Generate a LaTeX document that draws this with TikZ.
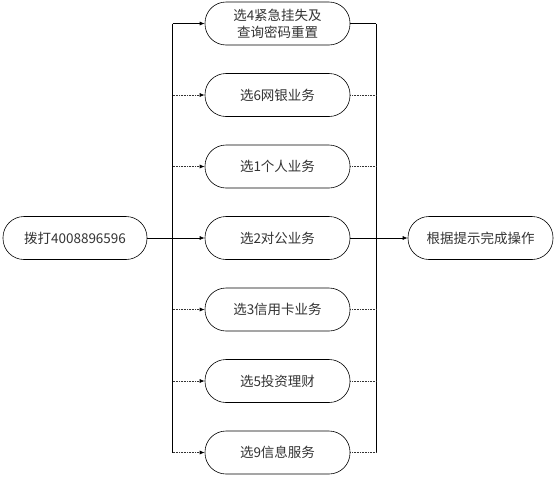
\documentclass[tikz,border=0pt]{standalone}
\usepackage{fontspec}
\newfontfamily\cjk{Noto Sans CJK SC}
\usetikzlibrary{arrows.meta}
\begin{document}
\begin{tikzpicture}[x=1pt,y=-1pt,
  box/.style={draw=black, line width=0.6pt, rounded corners=21pt, minimum width=145pt, minimum height=43pt, inner sep=2pt, align=center, font=\cjk\fontsize{13.5}{17}\selectfont, text=black!80},
  solidline/.style={draw=black, line width=0.7pt},
  dotline/.style={draw=black!80, line width=0.8pt, dash pattern=on 0.8pt off 0.8pt},
  tip/.style={-{Latex[length=5pt,width=4pt]}}]
\useasboundingbox (0,0) rectangle (554,477);
\node[box] (s4) at (277.5,23.5) {选4紧急挂失及\\查询密码重置};
\node[box] (s6) at (277.5,95) {选6网银业务};
\node[box] (s1) at (277.5,166.5) {选1个人业务};
\node[box] (s2) at (277.5,238) {选2对公业务};
\node[box] (s3) at (277.5,309.5) {选3信用卡业务};
\node[box] (s5) at (277.5,381) {选5投资理财};
\node[box] (s9) at (277.5,452.5) {选9信息服务};
\node[box, minimum width=144pt] (call) at (75,238) {拨打4008896596};
\node[box, minimum width=145pt] (done) at (480.5,238) {根据提示完成操作};
\coordinate (lt) at (172.5,23.5);
\coordinate (lb) at (172.5,452.5);
\coordinate (rt) at (376,23.5);
\coordinate (rb) at (376,452.5);
\draw[solidline] (lt) -- (lb);
\draw[solidline] (rt) -- (rb);
\draw[solidline, tip] (call) -- (s2);
\draw[solidline, tip] (s2) -- (done);
\draw[solidline, tip] (lt) -- (s4);
\draw[solidline] (s4) -- (rt);
\foreach \n in {s6,s1,s3,s5,s9}{
  \draw[dotline] (\n.west -| lt) -- ([xshift=-4pt]\n.west);
  \draw[solidline, tip] ([xshift=-5pt]\n.west) -- (\n.west);
  \draw[dotline] (\n.east) -- (\n.east -| rt);
}
\end{tikzpicture}
\end{document}
